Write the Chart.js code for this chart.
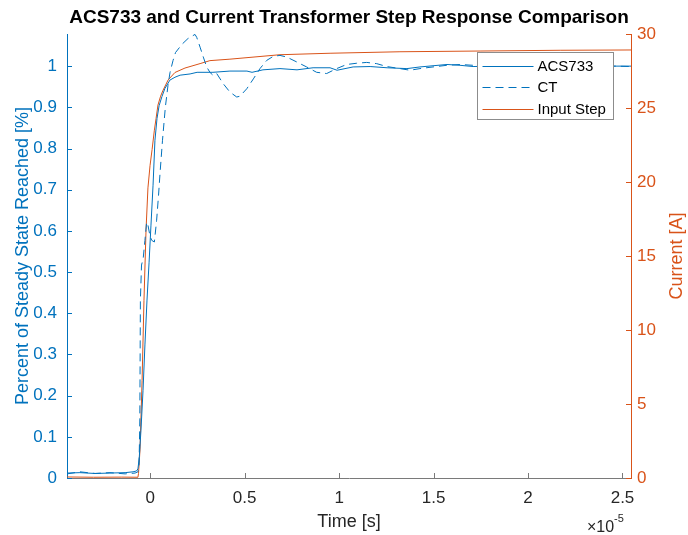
<!DOCTYPE html>
<html>
<head>
<meta charset="utf-8">
<title>ACS733 and Current Transformer Step Response Comparison</title>
<script src="https://cdn.jsdelivr.net/npm/chart.js"></script>
<style>
    html, body { margin: 0; padding: 0; background: #ffffff; }
    canvas { display: block; }
</style>
</head>
<body>
<canvas id="stepChart" width="688" height="535"></canvas>
<script>
// Time in units of 1e-5 s
const acsTime = [-0.440, -0.372, -0.292, -0.213, -0.133, -0.091, -0.073, -0.065, -0.058, -0.049,
    -0.038, -0.028, -0.017, -0.006, 0.004, 0.015, 0.025, 0.036, 0.047, 0.062,
    0.078, 0.104, 0.131, 0.158, 0.211, 0.248, 0.332, 0.422, 0.512, 0.539,
    0.597, 0.687, 0.777, 0.862, 0.952, 0.989, 1.074, 1.164, 1.254, 1.359,
    1.428, 1.571, 1.640, 1.709, 1.799, 1.905, 2.010, 2.116, 2.222, 2.328,
    2.434, 2.545];
const acsValue = [0.012, 0.013, 0.011, 0.012, 0.013, 0.015, 0.017, 0.022, 0.049, 0.116,
    0.213, 0.323, 0.432, 0.524, 0.614, 0.711, 0.820, 0.873, 0.904, 0.926,
    0.946, 0.966, 0.973, 0.978, 0.981, 0.985, 0.985, 0.988, 0.988, 0.985,
    0.991, 0.994, 0.991, 0.996, 0.996, 0.990, 0.998, 0.999, 0.996, 0.994,
    0.998, 1.004, 1.002, 0.999, 1.000, 0.999, 1.000, 0.999, 1.000, 0.998,
    1.000, 1.000];

const ctTime = [-0.440, -0.372, -0.292, -0.213, -0.133, -0.080, -0.065, -0.059, -0.055, -0.052,
    -0.046, -0.037, -0.028, -0.019, -0.012, -0.001, 0.008, 0.022, 0.034, 0.044,
    0.052, 0.065, 0.080, 0.094, 0.105, 0.121, 0.134, 0.168, 0.200, 0.237,
    0.246, 0.264, 0.281, 0.299, 0.316, 0.334, 0.352, 0.387, 0.422, 0.458,
    0.475, 0.511, 0.546, 0.581, 0.617, 0.652, 0.687, 0.723, 0.776, 0.828,
    0.881, 0.934, 0.987, 1.040, 1.093, 1.146, 1.199, 1.252, 1.322, 1.375,
    1.428, 1.497, 1.570, 1.640, 1.709, 1.852, 2.010, 2.169, 2.328, 2.461,
    2.545];
const ctValue = [0.010, 0.015, 0.011, 0.013, 0.010, 0.012, 0.015, 0.032, 0.141, 0.432,
    0.517, 0.534, 0.577, 0.621, 0.614, 0.587, 0.577, 0.573, 0.626, 0.686,
    0.740, 0.820, 0.900, 0.953, 0.985, 1.014, 1.033, 1.053, 1.067, 1.077,
    1.070, 1.046, 1.022, 0.998, 0.985, 0.977, 0.982, 0.957, 0.937, 0.925,
    0.927, 0.945, 0.969, 0.994, 1.014, 1.024, 1.026, 1.022, 1.010, 0.998,
    0.985, 0.982, 0.994, 1.004, 1.007, 1.009, 1.006, 0.999, 0.994, 0.990,
    0.994, 0.998, 1.002, 1.004, 1.002, 1.000, 0.998, 1.000, 0.999, 1.000,
    0.999];

const stepTime = [-0.440, -0.300, -0.150, -0.065, -0.062, -0.054, -0.043, -0.033, -0.022, -0.012,
    -0.001, 0.010, 0.022, 0.031, 0.041, 0.055, 0.068, 0.095, 0.131, 0.184,
    0.264, 0.316, 0.422, 0.687, 0.952, 1.322, 1.746, 2.170, 2.545];
const stepCurrent = [0.07, 0.05, 0.06, 0.05, 0.3, 1.9, 6.6, 12.0, 16.8, 19.6,
    21.1, 22.2, 23.5, 24.3, 25.2, 25.8, 26.2, 26.9, 27.4, 27.7,
    28.0, 28.2, 28.3, 28.6, 28.7, 28.8, 28.85, 28.9, 28.92];

const xTicks = [0, 0.5, 1, 1.5, 2, 2.5];
const leftTicks = [0, 0.1, 0.2, 0.3, 0.4, 0.5, 0.6, 0.7, 0.8, 0.9, 1];
const rightTicks = [0, 5, 10, 15, 20, 25, 30];

const chartTitle = 'ACS733 and Current Transformer Step Response Comparison';

const blue = '#0072BD';
const orange = '#D95319';
const axisGray = '#262626';
const fontFamily = '"Liberation Sans", Arial, Helvetica, sans-serif';

function toPoints(xs, ys) {
    return xs.map((x, i) => ({ x: x, y: ys[i] }));
}

function tickText(v) {
    return String(Number(v.toFixed(3)));
}

Chart.defaults.font.family = fontFamily;

// Inward tick marks, the way MATLAB draws them
const innerTicks = {
    id: 'innerTicks',
    afterDraw(chart) {
        const ctx = chart.ctx;
        const area = chart.chartArea;
        const len = 5;
        ctx.save();
        ctx.lineWidth = 1;

        ctx.strokeStyle = '#7a7a7a';
        chart.scales.x.ticks.forEach((t) => {
            const px = Math.round(chart.scales.x.getPixelForValue(t.value)) + 0.5;
            ctx.beginPath();
            ctx.moveTo(px, area.bottom);
            ctx.lineTo(px, area.bottom - len);
            ctx.stroke();
        });

        ctx.strokeStyle = blue;
        chart.scales.y.ticks.forEach((t) => {
            const py = Math.round(chart.scales.y.getPixelForValue(t.value)) + 0.5;
            ctx.beginPath();
            ctx.moveTo(area.left, py);
            ctx.lineTo(area.left + len, py);
            ctx.stroke();
        });

        ctx.strokeStyle = orange;
        chart.scales.y1.ticks.forEach((t) => {
            const py = Math.round(chart.scales.y1.getPixelForValue(t.value)) + 0.5;
            ctx.beginPath();
            ctx.moveTo(area.right, py);
            ctx.lineTo(area.right - len, py);
            ctx.stroke();
        });
        ctx.restore();
    }
};

// Title centred over the plot, right axis title bottom-to-top, x10^-5 exponent
const extraText = {
    id: 'extraText',
    afterDraw(chart) {
        const ctx = chart.ctx;
        const area = chart.chartArea;

        ctx.save();
        ctx.fillStyle = '#000000';
        ctx.font = 'bold 19px ' + fontFamily;
        ctx.textAlign = 'center';
        ctx.textBaseline = 'middle';
        ctx.fillText(chartTitle, (area.left + area.right) / 2, 18);
        ctx.restore();

        ctx.save();
        ctx.fillStyle = orange;
        ctx.font = '18px ' + fontFamily;
        ctx.textAlign = 'center';
        ctx.textBaseline = 'middle';
        ctx.translate(677, (area.top + area.bottom) / 2);
        ctx.rotate(-Math.PI / 2);
        ctx.fillText('Current [A]', 0, 0);
        ctx.restore();

        ctx.save();
        ctx.fillStyle = axisGray;
        ctx.textAlign = 'left';
        ctx.textBaseline = 'alphabetic';
        ctx.font = '16px ' + fontFamily;
        ctx.fillText('\u00d710', area.right - 44, area.bottom + 54);
        ctx.font = '11px ' + fontFamily;
        ctx.fillText('-5', area.right - 17, area.bottom + 44);
        ctx.restore();
    }
};

// Boxed legend in the top-right corner of the plot
const boxLegend = {
    id: 'boxLegend',
    afterDraw(chart) {
        const ctx = chart.ctx;
        const area = chart.chartArea;
        const w = 136, h = 67;
        const bx = area.right - 18 - w + 0.5;
        const by = area.top + 18 + 0.5;
        ctx.save();
        ctx.fillStyle = '#ffffff';
        ctx.fillRect(bx, by, w, h);
        ctx.strokeStyle = '#8c8c8c';
        ctx.lineWidth = 1;
        ctx.strokeRect(bx, by, w, h);

        ctx.font = '15px ' + fontFamily;
        ctx.textBaseline = 'middle';
        ctx.textAlign = 'left';
        chart.data.datasets.forEach((ds, i) => {
            const ry = Math.round(by + 13 + i * 21.5) + 0.5;
            ctx.strokeStyle = ds.borderColor;
            ctx.lineWidth = ds.borderWidth;
            ctx.setLineDash(ds.borderDash || []);
            ctx.beginPath();
            ctx.moveTo(bx + 5, ry);
            ctx.lineTo(bx + 56, ry);
            ctx.stroke();
            ctx.setLineDash([]);
            ctx.fillStyle = '#000000';
            ctx.fillText(ds.label, bx + 60, ry);
        });
        ctx.restore();
    }
};

const ctx = document.getElementById('stepChart').getContext('2d');
const stepChart = new Chart(ctx, {
    type: 'line',
    data: {
        datasets: [{
            label: 'ACS733',
            data: toPoints(acsTime, acsValue),
            borderColor: blue,
            borderWidth: 1,
            pointRadius: 0,
            yAxisID: 'y',
        }, {
            label: 'CT',
            data: toPoints(ctTime, ctValue),
            borderColor: blue,
            borderWidth: 1,
            borderDash: [8, 5],
            pointRadius: 0,
            yAxisID: 'y',
        }, {
            label: 'Input Step',
            data: toPoints(stepTime, stepCurrent),
            borderColor: orange,
            borderWidth: 1,
            pointRadius: 0,
            yAxisID: 'y1',
        }],
    },
    options: {
        responsive: false,
        animation: false,
        devicePixelRatio: 1,
        layout: { padding: { top: 34 } },
        plugins: {
            legend: { display: false },
            tooltip: { enabled: false },
            title: { display: false },
        },
        scales: {
            x: {
                type: 'linear',
                min: -0.4405,
                max: 2.545,
                afterBuildTicks: (s) => { s.ticks = xTicks.map((v) => ({ value: v })); },
                afterFit: (s) => { s.height = 57; },
                grid: { display: false, drawTicks: false },
                border: { display: true, color: '#7a7a7a', width: 1 },
                ticks: {
                    color: axisGray,
                    font: { size: 17 },
                    padding: 10,
                    maxRotation: 0,
                    autoSkip: false,
                    callback: (v) => tickText(v),
                },
                title: {
                    display: true,
                    text: 'Time [s]',
                    color: axisGray,
                    font: { size: 18 },
                    padding: { top: 0, bottom: 2 },
                },
            },
            y: {
                type: 'linear',
                position: 'left',
                min: 0,
                max: 1.078,
                afterBuildTicks: (s) => { s.ticks = leftTicks.map((v) => ({ value: v })); },
                afterFit: (s) => { s.width = 67; },
                grid: { display: false, drawTicks: false },
                border: { display: true, color: blue, width: 1 },
                ticks: {
                    color: blue,
                    font: { size: 17 },
                    padding: 10,
                    callback: (v) => tickText(v),
                },
                title: {
                    display: true,
                    text: 'Percent of Steady State Reached [%]',
                    color: blue,
                    font: { size: 18 },
                    padding: { top: 12, bottom: 0 },
                },
            },
            y1: {
                type: 'linear',
                position: 'right',
                min: 0,
                max: 30,
                afterBuildTicks: (s) => { s.ticks = rightTicks.map((v) => ({ value: v })); },
                afterFit: (s) => { s.width = 57; },
                grid: { display: false, drawTicks: false },
                border: { display: true, color: orange, width: 1 },
                ticks: {
                    color: orange,
                    font: { size: 17 },
                    padding: 6,
                    callback: (v) => tickText(v),
                },
            },
        },
    },
    plugins: [innerTicks, boxLegend, extraText],
});
</script>
</body>
</html>
